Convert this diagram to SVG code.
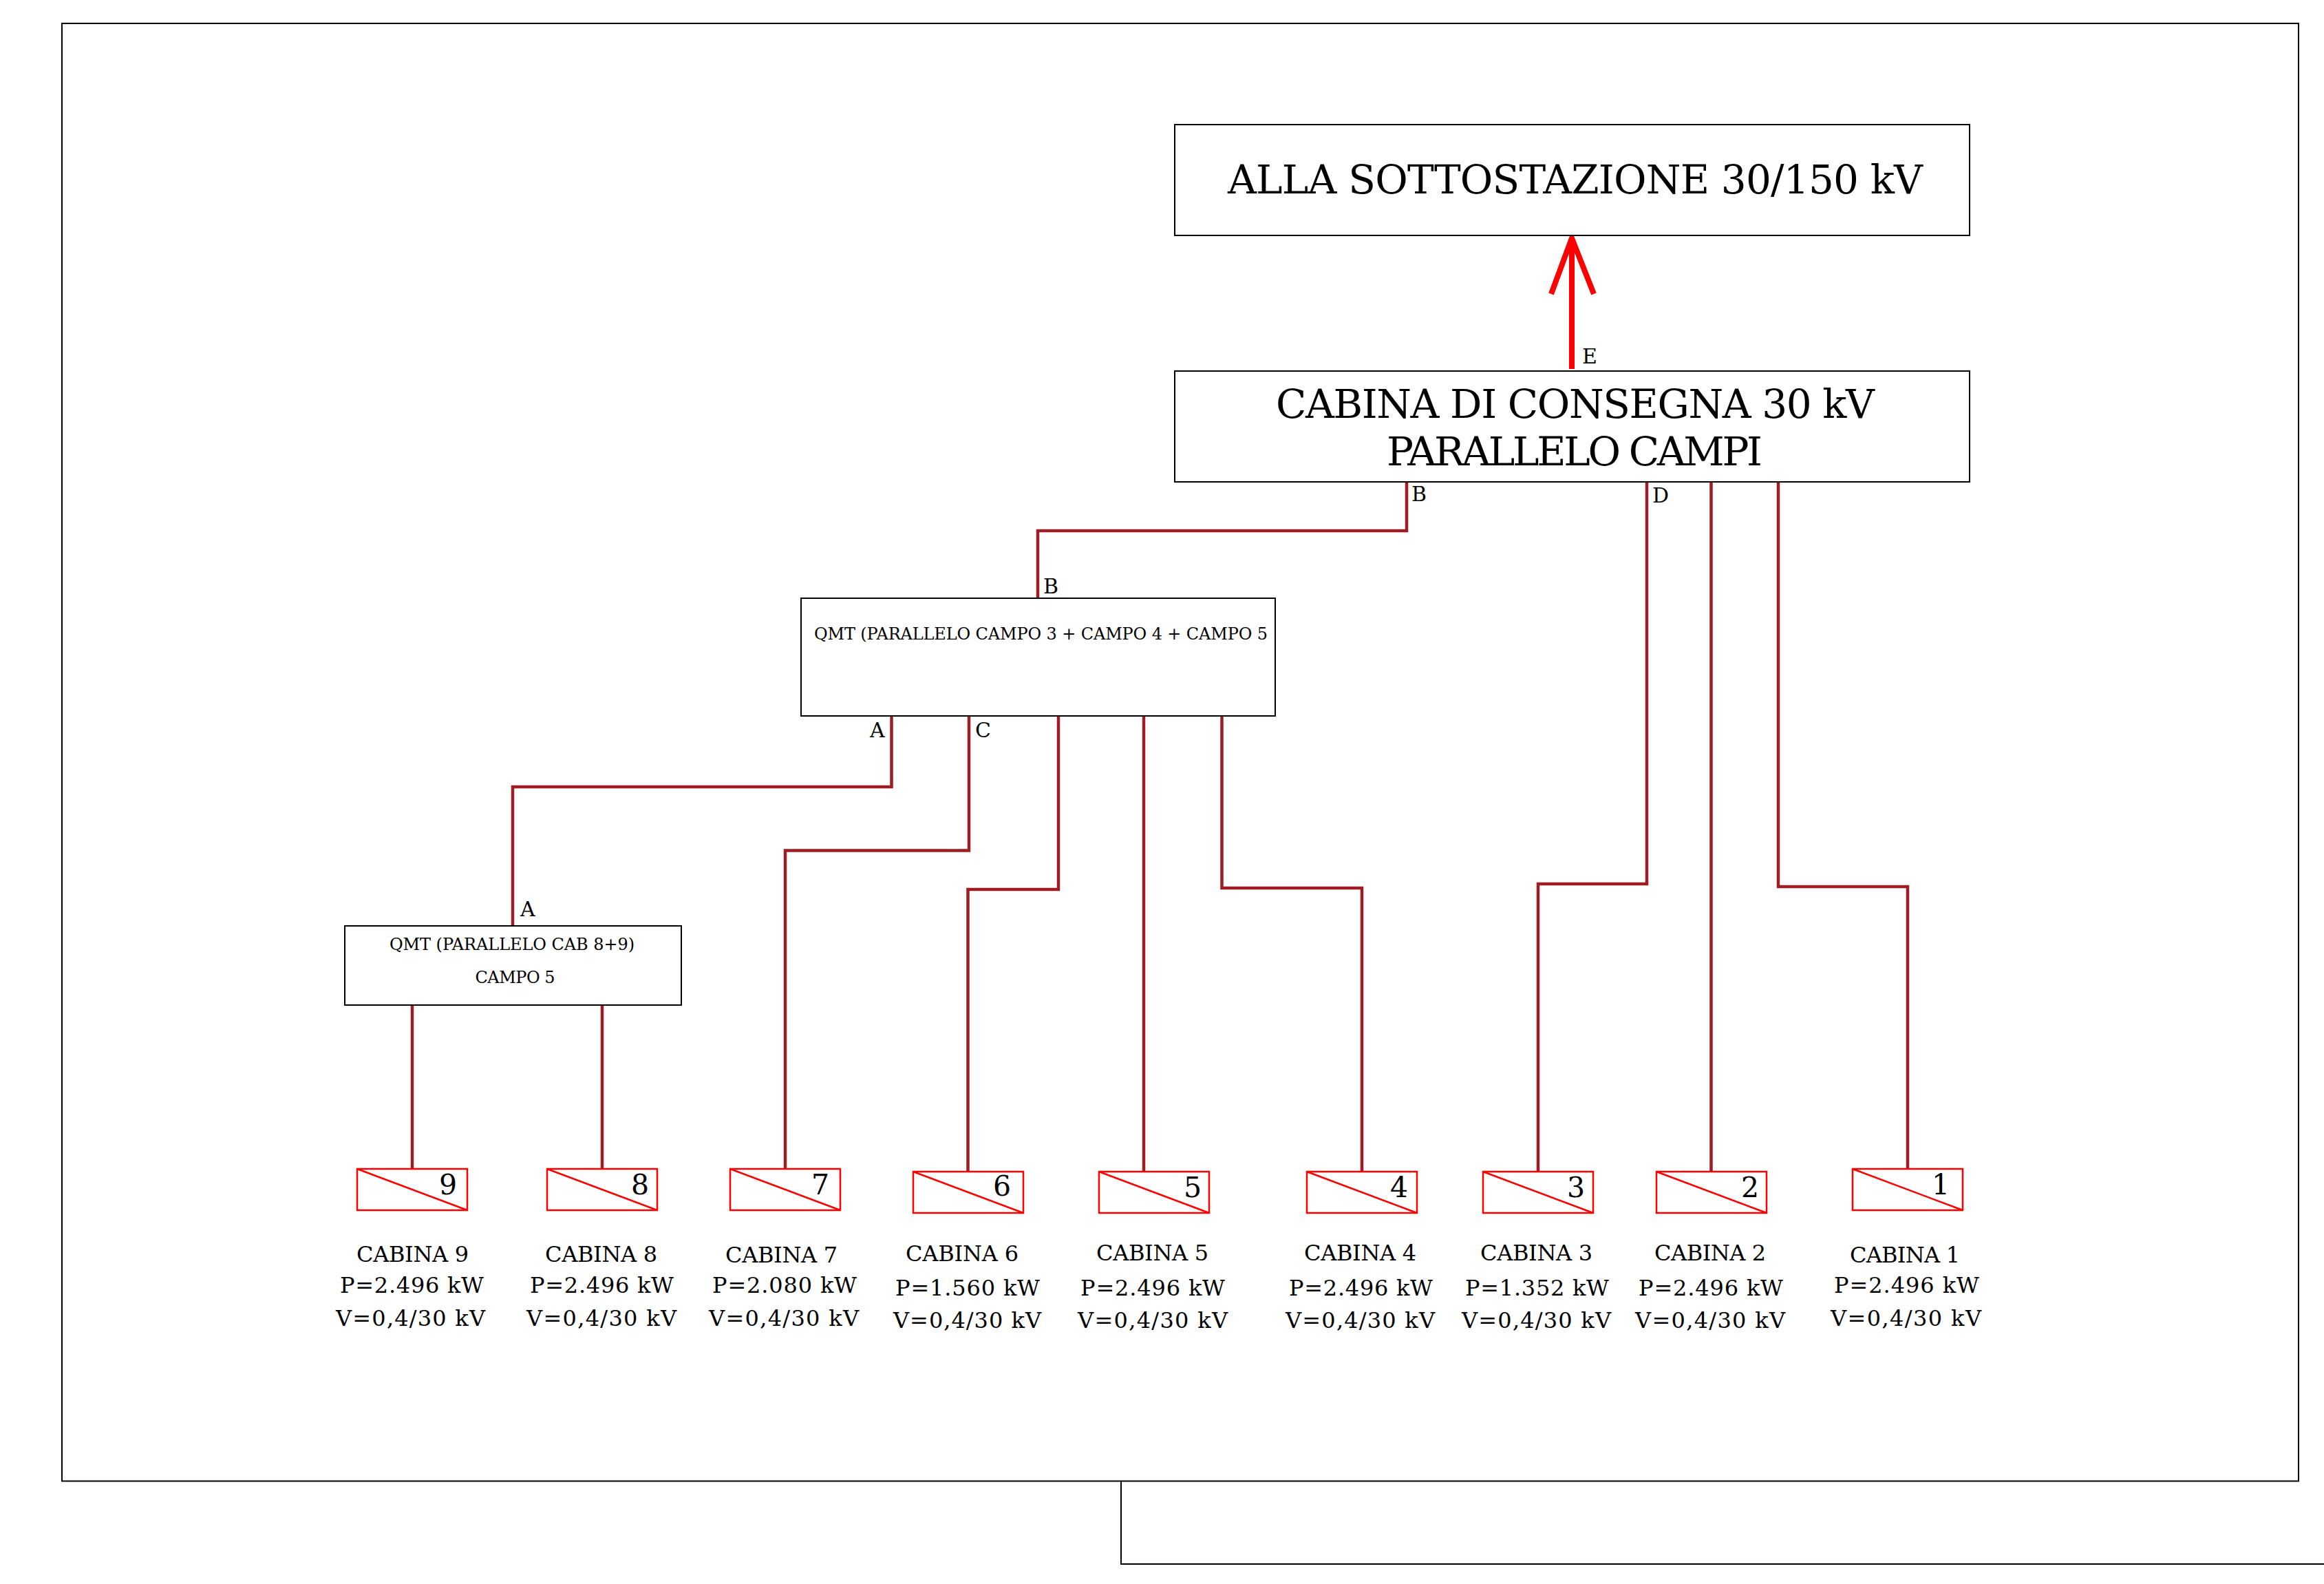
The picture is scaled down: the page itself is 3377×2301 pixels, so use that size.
<svg xmlns="http://www.w3.org/2000/svg" width="3377" height="2301" viewBox="0 0 3377 2301">
<style>
text{font-family:"DejaVu Serif","Liberation Serif",serif;fill:#000}
.b{fill:#fff;stroke:#000;stroke-width:2}
.f{fill:none;stroke:#000;stroke-width:2}
.c{fill:none;stroke:#9e1c22;stroke-width:4.500}
.r{fill:#fff;stroke:#f00;stroke-width:2.500}
.d{stroke:#f00;stroke-width:2.500}
.t1{font-size:58px}.t2{font-size:24px}.t3{font-size:32px}.n{font-size:41px}.l{font-size:30px}
</style>
<g id="frame">
<rect class="f" x="90" y="34" width="3250" height="2117.500"/>
<path class="f" d="M1629 2151.500V2272H3377"/>
</g>
<g id="connectors">
<path class="c" d="M2044 700V771H1508V869"/>
<path class="c" d="M1295.500 1040V1143H745V1345"/>
<path class="c" d="M1408 1040V1235.500H1141V1697"/>
<path class="c" d="M1538 1040V1292H1406.500V1702"/>
<path class="c" d="M1662 1040V1702"/>
<path class="c" d="M1775.500 1040V1290H1979V1702"/>
<path class="c" d="M2393 700V1284H2235V1702"/>
<path class="c" d="M2486.500 700V1702"/>
<path class="c" d="M2584 700V1288H2772V1697"/>
<path class="c" d="M599 1460V1697"/>
<path class="c" d="M875 1460V1697"/>
<path d="M2284 536V346M2254 427L2284 346L2316 427" fill="none" stroke="#f00" stroke-width="8"/>
</g>
<g id="sottostazione"><rect class="b" x="1707" y="181" width="1155" height="161"/>
<text class="t1" x="1784" y="281" textLength="1010">ALLA SOTTOSTAZIONE 30/150 kV</text></g>
<g id="consegna"><rect class="b" x="1707" y="539" width="1155" height="161"/>
<text class="t1" x="1854" y="607" textLength="870">CABINA DI CONSEGNA 30 kV</text>
<text class="t1" x="2015" y="676" textLength="546">PARALLELO CAMPI</text></g>
<g id="qmt-campi"><rect class="b" x="1164" y="869" width="689" height="171"/>
<text class="t2" x="1183" y="929" textLength="659">QMT (PARALLELO CAMPO 3 + CAMPO 4 + CAMPO 5</text></g>
<g id="qmt-cab"><rect class="b" x="501" y="1345" width="489" height="115"/>
<text class="t2" x="566" y="1380" textLength="356">QMT (PARALLELO CAB 8+9)</text>
<text class="t2" x="690.500" y="1428" textLength="116">CAMPO 5</text></g>
<g id="labels">
<text class="l" x="2299" y="528">E</text>
<text class="l" x="2051" y="728">B</text>
<text class="l" x="2401" y="730">D</text>
<text class="l" x="1516" y="862">B</text>
<text class="l" x="1264" y="1071">A</text>
<text class="l" x="1417" y="1071">C</text>
<text class="l" x="756" y="1331">A</text>
</g>
<g id="cabina-9"><rect class="r" x="519" y="1698" width="160" height="60"/><path class="d" d="M519 1698L679 1758"/>
<text class="n" x="638" y="1735">9</text>
<text class="t3" x="518" y="1833" textLength="163">CABINA 9</text>
<text class="t3" x="494" y="1878" textLength="209">P=2.496 kW</text>
<text class="t3" x="488" y="1926" textLength="217">V=0,4/30 kV</text></g>
<g id="cabina-8"><rect class="r" x="795" y="1698" width="160" height="60"/><path class="d" d="M795 1698L955 1758"/>
<text class="n" x="917" y="1735">8</text>
<text class="t3" x="792" y="1833" textLength="163">CABINA 8</text>
<text class="t3" x="770" y="1878" textLength="209">P=2.496 kW</text>
<text class="t3" x="765" y="1926" textLength="218">V=0,4/30 kV</text></g>
<g id="cabina-7"><rect class="r" x="1061" y="1698" width="160" height="60"/><path class="d" d="M1061 1698L1221 1758"/>
<text class="n" x="1179" y="1735">7</text>
<text class="t3" x="1054" y="1834" textLength="163">CABINA 7</text>
<text class="t3" x="1035" y="1878" textLength="210">P=2.080 kW</text>
<text class="t3" x="1030" y="1926" textLength="218">V=0,4/30 kV</text></g>
<g id="cabina-6"><rect class="r" x="1327" y="1702" width="160" height="60"/><path class="d" d="M1327 1702L1487 1762"/>
<text class="n" x="1443" y="1737">6</text>
<text class="t3" x="1316" y="1832" textLength="164">CABINA 6</text>
<text class="t3" x="1301" y="1882" textLength="210">P=1.560 kW</text>
<text class="t3" x="1298" y="1929" textLength="215">V=0,4/30 kV</text></g>
<g id="cabina-5"><rect class="r" x="1597" y="1702" width="160" height="60"/><path class="d" d="M1597 1702L1757 1762"/>
<text class="n" x="1720" y="1739">5</text>
<text class="t3" x="1593" y="1831" textLength="163">CABINA 5</text>
<text class="t3" x="1570" y="1882" textLength="210">P=2.496 kW</text>
<text class="t3" x="1566" y="1929" textLength="218">V=0,4/30 kV</text></g>
<g id="cabina-4"><rect class="r" x="1899" y="1702" width="160" height="60"/><path class="d" d="M1899 1702L2059 1762"/>
<text class="n" x="2020" y="1739">4</text>
<text class="t3" x="1895" y="1831" textLength="163">CABINA 4</text>
<text class="t3" x="1873" y="1882" textLength="209">P=2.496 kW</text>
<text class="t3" x="1868" y="1929" textLength="217">V=0,4/30 kV</text></g>
<g id="cabina-3"><rect class="r" x="2155" y="1702" width="160" height="60"/><path class="d" d="M2155 1702L2315 1762"/>
<text class="n" x="2277" y="1739">3</text>
<text class="t3" x="2151" y="1831" textLength="163">CABINA 3</text>
<text class="t3" x="2129" y="1882" textLength="209">P=1.352 kW</text>
<text class="t3" x="2124" y="1929" textLength="217">V=0,4/30 kV</text></g>
<g id="cabina-2"><rect class="r" x="2407" y="1702" width="160" height="60"/><path class="d" d="M2407 1702L2567 1762"/>
<text class="n" x="2530" y="1739">2</text>
<text class="t3" x="2404" y="1831" textLength="162">CABINA 2</text>
<text class="t3" x="2381" y="1882" textLength="210">P=2.496 kW</text>
<text class="t3" x="2376" y="1929" textLength="218">V=0,4/30 kV</text></g>
<g id="cabina-1"><rect class="r" x="2692" y="1698" width="160" height="60"/><path class="d" d="M2692 1698L2852 1758"/>
<text class="n" x="2807" y="1735">1</text>
<text class="t3" x="2688" y="1834" textLength="160">CABINA 1</text>
<text class="t3" x="2665" y="1878" textLength="211">P=2.496 kW</text>
<text class="t3" x="2660" y="1926" textLength="219">V=0,4/30 kV</text></g>
</svg>
